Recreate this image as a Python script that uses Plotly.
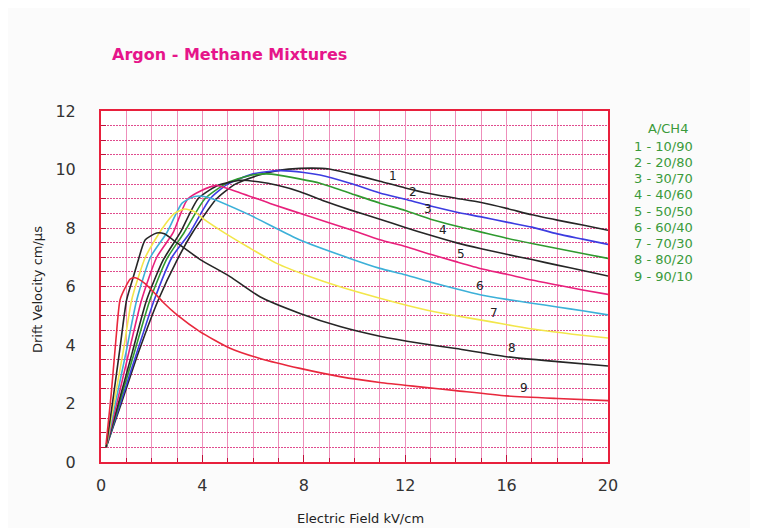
import numpy as np
import plotly.graph_objects as go

# ---- data ----
mixture_labels = ["1", "2", "3", "4", "5", "6", "7", "8", "9"]
legend_lines = ["1 - 10/90", "2 - 20/80", "3 - 30/70", "4 - 40/60", "5 - 50/50",
                "6 - 60/40", "7 - 70/30", "8 - 80/20", "9 - 90/10"]

x1 = [0.2, 0.8, 1.5, 2.26, 3.0, 3.6, 4.56, 5.3, 6.2, 7.0, 7.85, 9.0, 9.82, 11.0, 12.0, 13.0, 14.0, 15.0, 16.0, 17.0, 18.0, 19.0, 20.0]
y1 = [0.5, 2.0, 3.8, 5.54, 6.9, 7.83, 9.0, 9.5, 9.8, 9.97, 10.04, 10.02, 9.86, 9.6, 9.37, 9.17, 9.02, 8.87, 8.67, 8.45, 8.27, 8.1, 7.92]

x2 = [0.2, 0.8, 1.4, 2.1, 2.8, 3.5, 4.3, 5.0, 6.0, 7.06, 8.0, 8.64, 9.82, 11.0, 12.0, 13.0, 14.0, 15.0, 16.0, 17.0, 18.0, 19.0, 20.0]
y2 = [0.5, 2.1, 3.7, 5.54, 7.0, 7.83, 9.0, 9.5, 9.85, 9.96, 9.9, 9.81, 9.53, 9.2, 8.98, 8.75, 8.55, 8.38, 8.2, 8.03, 7.8, 7.62, 7.44]

x3 = [0.2, 0.7, 1.3, 1.93, 2.6, 3.27, 4.1, 5.0, 5.8, 6.5, 7.06, 8.64, 9.82, 11.0, 12.0, 13.0, 14.0, 15.0, 16.0, 17.0, 18.0, 19.0, 20.0]
y3 = [0.5, 1.95, 3.7, 5.54, 6.95, 7.83, 9.0, 9.55, 9.78, 9.85, 9.8, 9.53, 9.19, 8.85, 8.6, 8.3, 8.07, 7.86, 7.65, 7.47, 7.3, 7.13, 6.96]

x4 = [0.2, 0.7, 1.25, 1.8, 2.45, 3.12, 3.83, 4.6, 5.5, 6.2, 7.0, 7.85, 8.8, 9.82, 11.0, 12.0, 13.0, 14.0, 15.0, 16.0, 17.0, 18.0, 19.0, 20.0]
y4 = [0.5, 2.05, 3.8, 5.54, 6.9, 7.83, 9.0, 9.45, 9.63, 9.58, 9.45, 9.24, 8.92, 8.62, 8.3, 8.02, 7.75, 7.5, 7.29, 7.1, 6.92, 6.73, 6.55, 6.36]

x5 = [0.2, 0.65, 1.1, 1.6, 2.2, 2.84, 3.43, 4.5, 5.5, 6.67, 8.24, 9.82, 11.0, 12.0, 13.0, 14.0, 15.0, 16.0, 17.0, 18.0, 19.0, 20.0]
y5 = [0.5, 2.1, 3.75, 5.54, 7.0, 7.83, 9.0, 9.45, 9.2, 8.84, 8.39, 7.95, 7.6, 7.37, 7.1, 6.85, 6.61, 6.42, 6.22, 6.05, 5.88, 5.73]

x6 = [0.2, 0.6, 1.0, 1.41, 1.95, 2.59, 3.2, 3.7, 4.2, 5.88, 7.85, 9.82, 11.0, 12.0, 13.0, 14.0, 15.0, 16.0, 17.0, 18.0, 19.0, 20.0]
y6 = [0.5, 2.15, 3.8, 5.54, 7.0, 7.83, 8.85, 9.08, 9.05, 8.44, 7.59, 6.96, 6.62, 6.4, 6.15, 5.92, 5.71, 5.56, 5.43, 5.3, 5.17, 5.03]

x7 = [0.2, 0.55, 0.9, 1.21, 1.75, 2.39, 2.9, 3.3, 3.7, 4.0, 4.7, 5.8, 6.93, 8.2, 9.43, 11.0, 12.58, 14.0, 15.35, 16.3, 17.3, 18.6, 20.0]
y7 = [0.5, 2.2, 3.9, 5.54, 7.0, 7.95, 8.5, 8.65, 8.55, 8.34, 7.93, 7.35, 6.79, 6.35, 5.99, 5.6, 5.25, 5.0, 4.8, 4.65, 4.51, 4.37, 4.24]

x8 = [0.2, 0.45, 0.75, 1.01, 1.3, 1.47, 1.74, 2.2, 2.5, 3.0, 3.9, 5.09, 6.27, 7.85, 9.43, 11.0, 12.58, 14.0, 16.0, 18.0, 20.0]
y8 = [0.5, 2.0, 3.9, 5.54, 6.4, 6.9, 7.59, 7.83, 7.8, 7.49, 6.93, 6.34, 5.65, 5.08, 4.63, 4.3, 4.06, 3.88, 3.6, 3.43, 3.28]

x9 = [0.2, 0.4, 0.6, 0.75, 0.95, 1.15, 1.35, 1.74, 2.0, 2.5, 3.0, 3.9, 5.09, 6.27, 7.85, 9.43, 11.0, 12.58, 14.0, 16.0, 18.0, 20.0]
y9 = [0.6, 2.3, 4.3, 5.54, 5.95, 6.25, 6.3, 6.1, 5.88, 5.42, 5.03, 4.46, 3.89, 3.54, 3.2, 2.92, 2.72, 2.57, 2.44, 2.26, 2.17, 2.1]

label_x = [11.5, 12.3, 12.9, 13.5, 14.2, 14.95, 15.5, 16.2, 16.7]

series_x = [x1, x2, x3, x4, x5, x6, x7, x8, x9]
series_y = [y1, y2, y3, y4, y5, y6, y7, y8, y9]

colors = ["#262626", "#3c3ce0", "#2f9a2f", "#262626", "#e8207c",
          "#3cb0d8", "#f2e64a", "#262626", "#e8283c"]

fig = go.Figure()
for xs, ys, c, name in zip(series_x, series_y, colors, legend_lines):
    fig.add_trace(go.Scatter(x=xs, y=ys, mode="lines", name=name,
                             line=dict(color=c, width=1.6, shape="spline", smoothing=0.6),
                             showlegend=False, hoverinfo="skip"))

# curve number labels just above their curves
for lab, lx, xs, ys in zip(mixture_labels, label_x, series_x, series_y):
    fig.add_annotation(x=lx, y=float(np.interp(lx, xs, ys)), text=lab, showarrow=False,
                       yshift=9, font=dict(family="DejaVu Sans", size=12, color="#222"))

frame = "#e8203c"
vgrid = "#ee8fbb"
hgrid = "#e04c8e"
fig.update_xaxes(range=[0, 20], dtick=4, tick0=0, showgrid=True, gridcolor=vgrid,
                 griddash="solid", gridwidth=1, showline=True, linecolor=frame, linewidth=2,
                 mirror=True, ticks="inside", ticklen=7, tickcolor="#c0103a", zeroline=False,
                 minor=dict(dtick=1, showgrid=True, gridcolor=vgrid, griddash="solid", gridwidth=1,
                            ticks="inside", ticklen=4, tickcolor="#c0103a"),
                 tickfont=dict(family="DejaVu Sans", size=16, color="#333"),
                 ticklabelstandoff=8)
fig.update_yaxes(range=[0, 12], dtick=2, tick0=0, showgrid=True, gridcolor=hgrid,
                 griddash="2px,1px", gridwidth=1, showline=True, linecolor=frame, linewidth=2,
                 mirror=True, ticks="inside", ticklen=5, tickcolor="#c0103a", zeroline=False,
                 minor=dict(dtick=0.5, showgrid=True, gridcolor=hgrid, griddash="2px,1px",
                            gridwidth=1, ticks="inside", ticklen=5, tickcolor="#c0103a"),
                 tickfont=dict(family="DejaVu Sans", size=16, color="#333"),
                 ticklabelstandoff=20)

# the page adds an 8px body margin: plot area lands at x 101..608, y 111..462
fig.update_layout(
    width=758, height=528,
    margin=dict(l=93, r=158, t=103, b=74),
    paper_bgcolor="#fbfbfb", plot_bgcolor="#ffffff",
)

def px_x(px):
    return (px - 101) / 507

def px_y(py):
    return (462 - py) / 351

fig.add_annotation(xref="paper", yref="paper", x=px_x(110), y=px_y(55), xanchor="left",
                   yanchor="middle", text="<b>Argon - Methane Mixtures</b>", showarrow=False,
                   font=dict(family="DejaVu Sans", size=16, color="#e6158a"))

# axis titles
fig.add_annotation(xref="paper", yref="paper", x=px_x(360), y=px_y(518), yanchor="middle",
                   text="Electric Field kV/cm", showarrow=False,
                   font=dict(family="DejaVu Sans", size=13, color="#222"))
fig.add_annotation(xref="paper", yref="paper", x=px_x(37), y=px_y(290), xanchor="center",
                   yanchor="middle", text="Drift Velocity cm/µs", showarrow=False, textangle=-90,
                   font=dict(family="DejaVu Sans", size=13, color="#222"))

# legend block on the right
fig.add_annotation(xref="paper", yref="paper", x=px_x(668), y=px_y(128),
                   yanchor="middle", xanchor="center", text="A/CH4", showarrow=False,
                   font=dict(family="DejaVu Sans", size=13, color="#3a9a3a"))
for i, t in enumerate(legend_lines):
    fig.add_annotation(xref="paper", yref="paper", x=px_x(632),
                       y=px_y(146 + 16.25 * i), xanchor="left", yanchor="middle",
                       text=t, showarrow=False,
                       font=dict(family="DejaVu Sans", size=13, color="#3a9a3a"))

fig.write_html("out.html")
